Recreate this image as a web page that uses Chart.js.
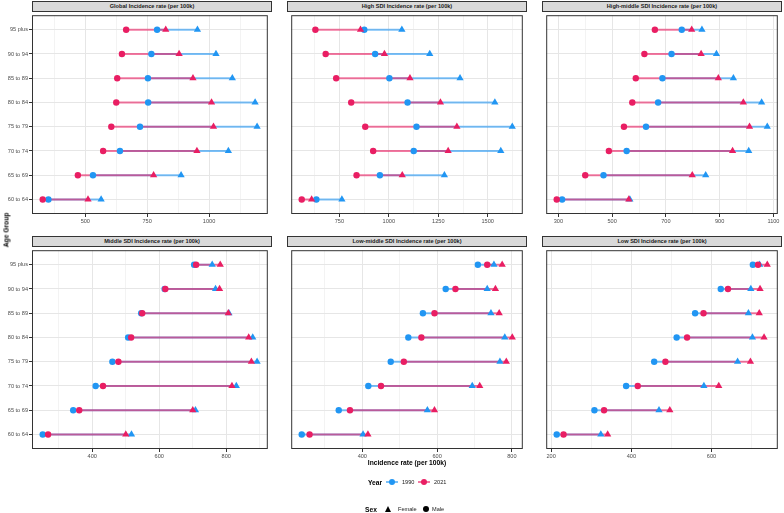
<!DOCTYPE html>
<html>
<head>
<meta charset="utf-8">
<script src="https://cdn.jsdelivr.net/npm/chart.js@4.4.0/dist/chart.umd.min.js"></script>
<style>
  body { margin: 0; background: #fff; font-family: 'Liberation Sans', Arial, sans-serif; }
  #wrap { position: relative; width: 784px; height: 513px; overflow: hidden; }
  canvas { position: absolute; }
  .strip {
    position: absolute; box-sizing: border-box; height: 11px;
    background: #D9D9D9; border: 1px solid #333;
    font-size: 5.6px; font-weight: bold; color: #1A1A1A;
    text-align: center; line-height: 9px; white-space: nowrap;
  }
  .lbl { position: absolute; transform: translateY(-50%); font-size: 5.6px; color: #1A1A1A; white-space: nowrap; }
  .ttl { position: absolute; font-size: 6.7px; font-weight: bold; color: #000; white-space: nowrap; }
  .line { position: absolute; height: 2px; transform: translateY(-50%); }
  .dot { position: absolute; width: 6px; height: 6px; border-radius: 50%; transform: translate(-50%, -50%); }
  .tri {
    position: absolute; width: 0; height: 0; transform: translate(-50%, -50%);
    border-left: 3.5px solid transparent; border-right: 3.5px solid transparent; border-bottom: 6px solid #000;
  }
</style>
</head>
<body>
<div id="wrap"></div>
<script>
// --- Datos (orden: 60 to 64 ... 95 plus) ---
const ageGroups = ['60 to 64', '65 to 69', '70 to 74', '75 to 79', '80 to 84', '85 to 89', '90 to 94', '95 plus'];

const globalMale1990   = [351, 531, 640, 721, 754, 753, 767, 790];
const globalFemale1990 = [564, 887, 1078, 1194, 1186, 1094, 1028, 953];
const globalMale2021   = [328, 470, 572, 605, 625, 629, 648, 665];
const globalFemale2021 = [511, 776, 951, 1018, 1010, 935, 879, 825];

const highMale1990   = [634, 955, 1126, 1140, 1095, 1003, 931, 876];
const highFemale1990 = [763, 1281, 1566, 1624, 1536, 1360, 1207, 1066];
const highMale2021   = [560, 837, 921, 881, 810, 734, 681, 629];
const highFemale2021 = [610, 1068, 1300, 1344, 1261, 1107, 978, 857];

const highMidMale1990   = [314, 468, 554, 626, 671, 687, 721, 759];
const highMidFemale1990 = [566, 848, 1008, 1077, 1056, 951, 888, 834];
const highMidMale2021   = [294, 400, 488, 544, 575, 588, 620, 659];
const highMidFemale2021 = [562, 798, 948, 1011, 988, 895, 831, 796];

const middleMale1990   = [252, 343, 410, 460, 507, 546, 616, 704];
const middleFemale1990 = [517, 708, 830, 892, 879, 808, 768, 758];
const middleMale2021   = [268, 361, 432, 478, 516, 549, 618, 710];
const middleFemale2021 = [500, 700, 817, 875, 867, 806, 780, 782];

const lowMidMale1990   = [238, 337, 416, 476, 523, 562, 623, 709];
const lowMidFemale1990 = [402, 574, 694, 768, 781, 744, 734, 752];
const lowMidMale2021   = [259, 367, 450, 511, 558, 593, 649, 734];
const lowMidFemale2021 = [415, 593, 714, 785, 801, 766, 756, 774];

const lowMale1990   = [214, 308, 387, 457, 513, 559, 623, 703];
const lowFemale1990 = [324, 469, 581, 665, 702, 692, 698, 720];
const lowMale2021   = [231, 332, 416, 485, 539, 580, 641, 716];
const lowFemale2021 = [341, 496, 618, 697, 731, 719, 721, 739];

// Etiquetas del eje x de cada panel
const globalTicks  = [500, 750, 1000];
const highTicks    = [750, 1000, 1250, 1500];
const highMidTicks = [300, 500, 700, 900, 1100];
const middleTicks  = [400, 600, 800];
const lowMidTicks  = [400, 600, 800];
const lowTicks     = [200, 400, 600];

const panelTitles = [
  'Global Incidence rate (per 100k)', 'High SDI Incidence rate (per 100k)', 'High-middle SDI Incidence rate (per 100k)',
  'Middle SDI Incidence rate (per 100k)', 'Low-middle SDI Incidence rate (per 100k)', 'Low SDI Incidence rate (per 100k)'
];

const panels = [
  { m90: globalMale1990, f90: globalFemale1990, m21: globalMale2021, f21: globalFemale2021, ticks: globalTicks },
  { m90: highMale1990, f90: highFemale1990, m21: highMale2021, f21: highFemale2021, ticks: highTicks },
  { m90: highMidMale1990, f90: highMidFemale1990, m21: highMidMale2021, f21: highMidFemale2021, ticks: highMidTicks },
  { m90: middleMale1990, f90: middleFemale1990, m21: middleMale2021, f21: middleFemale2021, ticks: middleTicks },
  { m90: lowMidMale1990, f90: lowMidFemale1990, m21: lowMidMale2021, f21: lowMidFemale2021, ticks: lowMidTicks },
  { m90: lowMale1990, f90: lowFemale1990, m21: lowMale2021, f21: lowFemale2021, ticks: lowTicks }
];

// Colores
const BLUE = '#2196F3', PINK = '#E91E63';
const BLUE_LINE = 'rgba(33,150,243,0.6)', PINK_LINE = 'rgba(233,30,99,0.6)';

// Geometria de los paneles (area de dibujo)
const colX = [32, 287, 542], rowY = [11, 246];
const AREA_W = 240, AREA_H = 203, XAXIS_H = 20;

Chart.defaults.font.family = "'Liberation Sans', Arial, sans-serif";
Chart.defaults.animation = false;

const wrap = document.getElementById('wrap');

// borde del panel (como theme_bw)
const panelBorder = {
  id: 'panelBorder',
  afterDraw(chart) {
    const { ctx, chartArea: a } = chart;
    ctx.save();
    ctx.strokeStyle = '#333';
    ctx.lineWidth = 1;
    ctx.strokeRect(a.left + 0.5, a.top + 0.5, a.right - a.left - 1, a.bottom - a.top - 1);
    ctx.restore();
  }
};

const pts = (xs) => xs.map((x, i) => ({ x: x, y: i }));

panels.forEach((p, k) => {
  const col = k % 3, row = Math.floor(k / 3);
  const yW = col === 0 ? 32 : 0;

  // strip
  const strip = document.createElement('div');
  strip.className = 'strip';
  strip.style.left = colX[col] + 'px';
  strip.style.top = (rowY[row] - 10) + 'px';
  strip.style.width = AREA_W + 'px';
  strip.textContent = panelTitles[k];
  wrap.appendChild(strip);

  const cv = document.createElement('canvas');
  cv.width = yW + AREA_W;
  cv.height = AREA_H + XAXIS_H;
  cv.style.left = (colX[col] - yW) + 'px';
  cv.style.top = rowY[row] + 'px';
  wrap.appendChild(cv);

  // limites con expansion del 5%
  const all = [...p.m90, ...p.f90, ...p.m21, ...p.f21];
  const lo = Math.min(...all), hi = Math.max(...all);
  const xmin = lo - (hi - lo) * 0.05, xmax = hi + (hi - lo) * 0.05;
  const step = p.ticks[1] - p.ticks[0];
  const minors = [];
  for (let v = p.ticks[0] - step / 2; v <= xmax; v += step) {
    if (v >= xmin) minors.push(v);
  }
  const tickVals = [...p.ticks, ...minors].sort((a, b) => a - b);

  const datasets = [];
  // segmentos hombre -> mujer para cada año
  ageGroups.forEach((g, i) => {
    datasets.push({ data: [{ x: p.m90[i], y: i }, { x: p.f90[i], y: i }], showLine: true,
      borderColor: BLUE_LINE, borderWidth: 2, pointRadius: 0, order: 20 });
    datasets.push({ data: [{ x: p.m21[i], y: i }, { x: p.f21[i], y: i }], showLine: true,
      borderColor: PINK_LINE, borderWidth: 2, pointRadius: 0, order: 19 });
  });
  datasets.push({ data: pts(p.m90), pointStyle: 'circle', pointRadius: 3.2, backgroundColor: BLUE, borderWidth: 0, order: 6 });
  datasets.push({ data: pts(p.f90), pointStyle: 'triangle', pointRadius: 4.2, backgroundColor: BLUE, borderWidth: 0, order: 5 });
  datasets.push({ data: pts(p.m21), pointStyle: 'circle', pointRadius: 3.2, backgroundColor: PINK, borderWidth: 0, order: 2 });
  datasets.push({ data: pts(p.f21), pointStyle: 'triangle', pointRadius: 4.2, backgroundColor: PINK, borderWidth: 0, order: 1 });

  new Chart(cv.getContext('2d'), {
    type: 'scatter',
    data: { datasets: datasets },
    options: {
      responsive: false,
      devicePixelRatio: 1,
      layout: { padding: 0 },
      plugins: { legend: { display: false }, tooltip: { enabled: false } },
      scales: {
        x: {
          type: 'linear', min: xmin, max: xmax,
          afterBuildTicks: (s) => { s.ticks = tickVals.map(v => ({ value: v })); },
          afterFit: (s) => { s.height = XAXIS_H; s.paddingLeft = 0; s.paddingRight = 0; },
          border: { display: false },
          grid: {
            color: (c) => (c.tick && p.ticks.includes(c.tick.value)) ? '#E6E6E6' : '#F3F3F3',
            lineWidth: 1,
            tickLength: 3,
            tickColor: (c) => (c.tick && p.ticks.includes(c.tick.value)) ? '#333' : 'rgba(0,0,0,0)'
          },
          ticks: {
            autoSkip: false, maxRotation: 0, minRotation: 0, padding: 1,
            color: '#4D4D4D', font: { size: 5.6 },
            callback: (v) => p.ticks.includes(v) ? String(v) : ''
          }
        },
        y: {
          type: 'linear', min: -0.6, max: 7.6,
          afterBuildTicks: (s) => { s.ticks = ageGroups.map((g, i) => ({ value: i })); },
          afterFit: (s) => { s.width = yW; s.paddingTop = 0; s.paddingBottom = 0; },
          border: { display: false },
          grid: { color: '#E6E6E6', lineWidth: 1, drawTicks: col === 0, tickLength: 3, tickColor: '#333' },
          ticks: {
            display: col === 0, padding: 1, color: '#4D4D4D', font: { size: 5.6 },
            callback: (v) => ageGroups[v]
          }
        }
      }
    },
    plugins: [panelBorder]
  });
});

// --- Titulos de ejes ---
function addEl(cls, text, css) {
  const d = document.createElement('div');
  d.className = cls;
  if (text) d.textContent = text;
  Object.assign(d.style, css);
  wrap.appendChild(d);
  return d;
}
addEl('ttl', 'Incidence rate (per 100k)', { left: '407px', top: '462px', transform: 'translate(-50%, -50%)' });
addEl('ttl', 'Age Group', { left: '6px', top: '230px', transform: 'translate(-50%, -50%) rotate(-90deg)' });

// --- Leyendas ---
addEl('ttl', 'Year', { left: '368px', top: '482px', transform: 'translateY(-50%)' });
addEl('line', '', { left: '386px', top: '482px', width: '12px', background: BLUE_LINE });
addEl('dot', '', { left: '392px', top: '482px', background: BLUE });
addEl('lbl', '1990', { left: '402px', top: '482px' });
addEl('line', '', { left: '418px', top: '482px', width: '12px', background: PINK_LINE });
addEl('dot', '', { left: '424px', top: '482px', background: PINK });
addEl('lbl', '2021', { left: '434px', top: '482px' });

addEl('ttl', 'Sex', { left: '365px', top: '509px', transform: 'translateY(-50%)' });
addEl('tri', '', { left: '388px', top: '509px' });
addEl('lbl', 'Female', { left: '398px', top: '509px' });
addEl('dot', '', { left: '426px', top: '509px', background: '#000' });
addEl('lbl', 'Male', { left: '432px', top: '509px' });
</script>
</body>
</html>
